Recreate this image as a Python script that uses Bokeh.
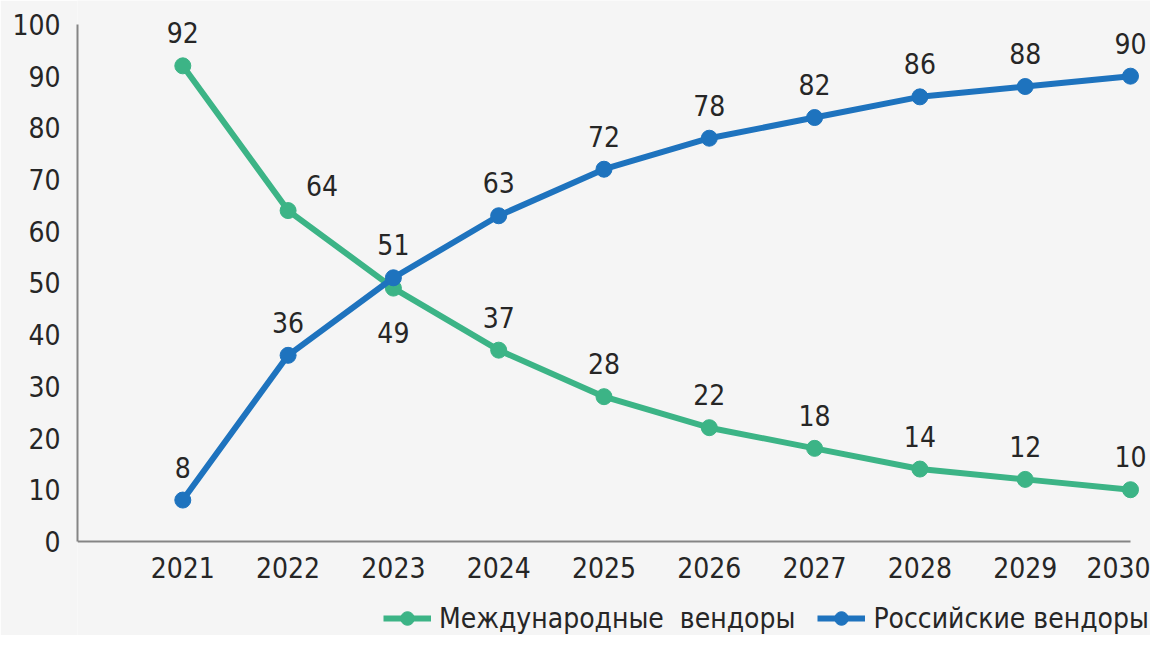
from bokeh.plotting import figure
from bokeh.models import ColumnDataSource, Range1d, FixedTicker, Legend, LegendItem
from bokeh.core.properties import value
from bokeh.embed import file_html
from bokeh.resources import INLINE

years = [2021, 2022, 2023, 2024, 2025, 2026, 2027, 2028, 2029, 2030]
intl_vendors = [92, 64, 49, 37, 28, 22, 18, 14, 12, 10]
ru_vendors = [8, 36, 51, 63, 72, 78, 82, 86, 88, 90]
y_ticks = [0, 10, 20, 30, 40, 50, 60, 70, 80, 90, 100]
series_names = ["Международные  вендоры", "Российские вендоры"]

GREEN = "#3cb486"
BLUE = "#1e73be"
FONT = "DejaVu Sans Condensed"
BG = "#f5f5f5"
TXT = "#262626"

p = figure(width=1150, height=635, output_backend="svg", toolbar_location=None,
           x_range=Range1d(2020, 2030.19), y_range=Range1d(-18.2, 104.64),
           min_border_left=77, min_border_right=0, min_border_top=0, min_border_bottom=0)
p.background_fill_color = BG
p.border_fill_color = BG
p.outline_line_color = None
p.grid.grid_line_color = None

for ax in (p.xaxis[0], p.yaxis[0]):
    ax.axis_line_color = "#858585"
    ax.axis_line_width = 2
    ax.major_tick_line_color = None
    ax.minor_tick_line_color = None
    ax.major_label_text_font = FONT
    ax.major_label_text_font_size = "28px"
    ax.major_label_text_color = TXT
p.xaxis.ticker = FixedTicker(ticks=years)
p.yaxis.ticker = FixedTicker(ticks=y_ticks)
p.xaxis.fixed_location = 0
p.xaxis.bounds = (2020, 2030)
p.yaxis.bounds = (0, 100)
p.xaxis.major_label_standoff = 10
p.yaxis.major_label_standoff = 11

src_g = ColumnDataSource(dict(x=years, y=intl_vendors, t=[str(v) for v in intl_vendors],
                              xo=[0, 34, 0, 0, 0, 0, 0, 0, 0, 0],
                              yo=[-33, -25, 44, -33, -33, -33, -33, -33, -33, -33]))
src_b = ColumnDataSource(dict(x=years, y=ru_vendors, t=[str(v) for v in ru_vendors],
                              xo=[0] * 10, yo=[-33] * 10))

lg = p.line("x", "y", source=src_g, line_color=GREEN, line_width=6)
cg = p.scatter("x", "y", source=src_g, size=16, fill_color=GREEN, line_color=GREEN)
lb = p.line("x", "y", source=src_b, line_color=BLUE, line_width=6)
cb = p.scatter("x", "y", source=src_b, size=16, fill_color=BLUE, line_color=BLUE)

for src in (src_g, src_b):
    p.text("x", "y", text="t", source=src, x_offset="xo", y_offset="yo",
           text_align="center", text_baseline="middle",
           text_font=value(FONT), text_font_size="28px", text_color=TXT)

legend = Legend(items=[LegendItem(label=series_names[0], renderers=[lg, cg]),
                       LegendItem(label=series_names[1], renderers=[lb, cb])],
                orientation="horizontal", location=(306, 0),
                background_fill_alpha=0, border_line_alpha=0,
                label_text_font=FONT, label_text_font_size="28px", label_text_color=TXT,
                glyph_width=48, glyph_height=34, label_standoff=8, spacing=22,
                padding=0, margin=0)
p.add_layout(legend, "center")

open("out.html", "w").write(file_html(p, INLINE))
